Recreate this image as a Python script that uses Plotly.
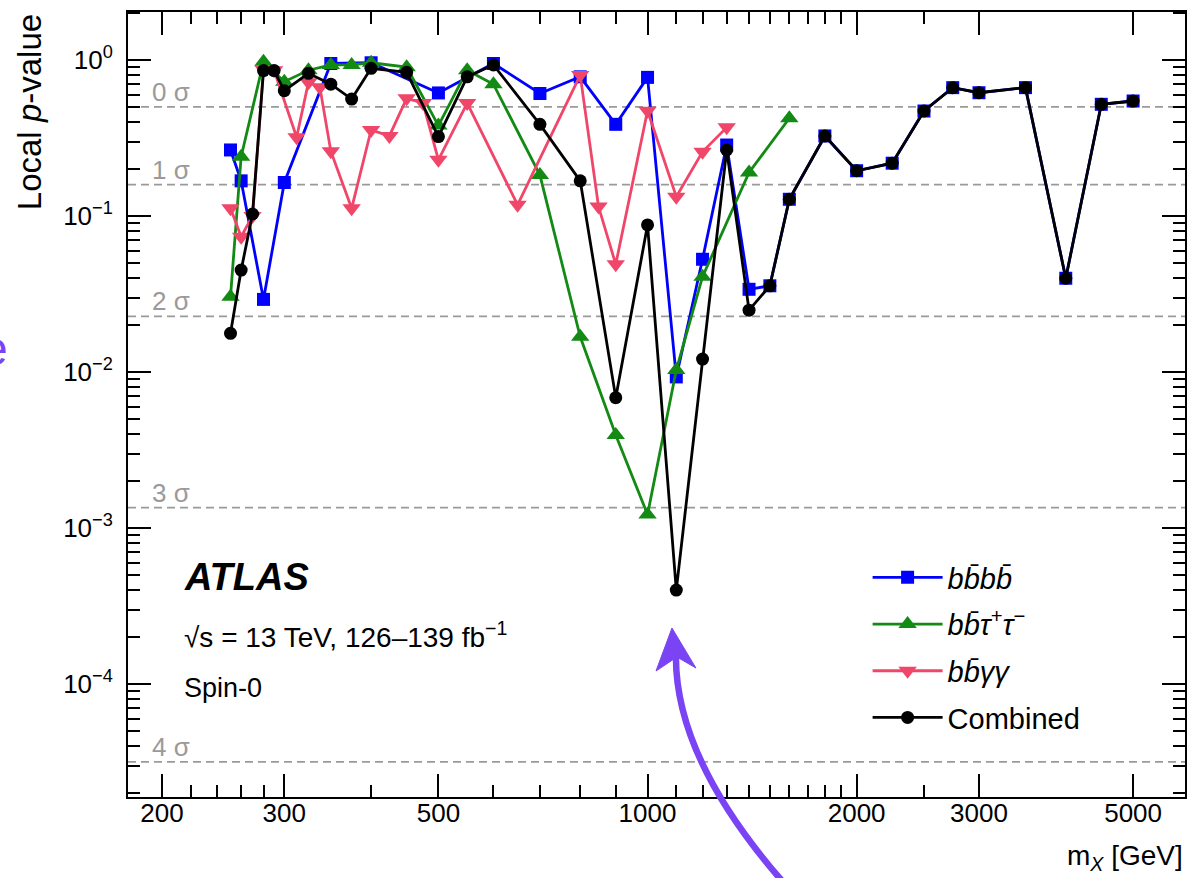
import plotly.graph_objects as go
import math

# ---------------- data ----------------
mass_4b = [251, 260, 280, 300, 350, 400, 500, 600, 700, 800, 900, 1000, 1100, 1200,
           1300, 1400, 1500, 1600, 1800, 2000, 2250, 2500, 2750, 3000, 3500, 4000, 4500, 5000]
p_4b = [0.265, 0.168, 0.0292, 0.164, 0.95, 0.96, 0.615, 0.95, 0.61, 0.78, 0.387, 0.774,
        0.0093, 0.0528, 0.285, 0.0339, 0.0357, 0.128, 0.326, 0.195, 0.218, 0.471, 0.665,
        0.617, 0.665, 0.0399, 0.52, 0.546]

mass_bbtt = [251, 260, 280, 300, 325, 350, 375, 400, 450, 500, 550, 600, 700, 800, 900,
             1000, 1100, 1200, 1400, 1600]
p_bbtt = [0.0304, 0.24, 0.975, 0.726, 0.86, 0.93, 0.93, 0.96, 0.90, 0.38, 0.86, 0.70,
          0.183, 0.0168, 0.00395, 0.00122, 0.0103, 0.0408, 0.19, 0.423]

mass_bbyy = [251, 260, 270, 280, 290, 312.5, 325, 337.5, 350, 375, 400, 425, 450, 475,
             500, 550, 650, 800, 850, 900, 1000, 1100, 1200, 1300]
p_bbyy = [0.112, 0.0737, 0.10, 0.87, 0.86, 0.32, 0.72, 0.67, 0.26, 0.112, 0.356, 0.326,
          0.568, 0.53, 0.229, 0.53, 0.118, 0.80, 0.115, 0.049, 0.473, 0.133, 0.258, 0.37]

mass_comb = [251, 260, 270, 280, 290, 300, 325, 350, 375, 400, 450, 500, 550, 600, 700,
             800, 900, 1000, 1100, 1200, 1300, 1400, 1500, 1600, 1800, 2000, 2250, 2500,
             2750, 3000, 3500, 4000, 4500, 5000]
p_comb = [0.0177, 0.045, 0.103, 0.855, 0.855, 0.636, 0.822, 0.70, 0.562, 0.885, 0.834,
          0.323, 0.78, 0.93, 0.387, 0.168, 0.00685, 0.0876, 0.0004, 0.0121, 0.265, 0.0249,
          0.0357, 0.128, 0.326, 0.195, 0.218, 0.471, 0.665, 0.617, 0.665, 0.0399, 0.52, 0.546]

sigma_labels = ["0 σ", "1 σ", "2 σ", "3 σ", "4 σ"]
sigma_p = [0.5, 0.1587, 0.02275, 0.00135, 3.167e-5]

x_tickvals = [200, 300, 500, 1000, 2000, 3000, 5000]
x_ticktext = ["200", "300", "500", "1000", "2000", "3000", "5000"]
x_minor = [220, 240, 260, 280, 400, 600, 700, 800, 900, 1100, 1200, 1300, 1400, 1500,
           1600, 1700, 1800, 1900, 2500]
y_tickvals = [1e-4, 1e-3, 1e-2, 1e-1, 1]
y_ticktext = ["10<sup>−4</sup>", "10<sup>−3</sup>", "10<sup>−2</sup>",
              "10<sup>−1</sup>", "10<sup>0</sup>"]
y_minor = [k * 10.0 ** d for d in range(-5, 1) for k in range(2, 10)]

# ---------------- layout geometry ----------------
W, H = 1191, 878
L, R, T, B = 128, 1187, 12, 797
FONT = "Liberation Sans, Arial, Helvetica, sans-serif"
PURPLE = "#7a44f5"


def px(x):
    return (x - L) / (R - L)


def py(y):
    return (B - y) / (B - T)


fig = go.Figure()

series = [
    (mass_4b, p_4b, "<i>bb̄bb̄</i>", "#0000ff", "square", 13),
    (mass_bbtt, p_bbtt, "<i>bb̄τ</i><sup>+</sup><i>τ</i><sup>−</sup>", "#138a13", "triangle-up", 16),
    (mass_bbyy, p_bbyy, "<i>bb̄γγ</i>", "#f0466a", "triangle-down", 16),
    (mass_comb, p_comb, "Combined", "#000000", "circle", 13),
]
for i, (xs, ys, name, col, sym, sz) in enumerate(series):
    fig.add_trace(go.Scatter(
        x=xs, y=ys, name=name, mode="lines+markers",
        line=dict(color=col, width=2.8),
        marker=dict(color=col, symbol=sym, size=sz, line=dict(width=0)),
        legendgroup=f"g{i}",
    ))

shapes = []
annotations = []
for lab, p in zip(sigma_labels, sigma_p):
    shapes.append(dict(type="line", xref="paper", yref="y", x0=0, x1=1, y0=p, y1=p,
                       line=dict(color="#9a9a9a", width=1.8, dash="8px,5px"), layer="below"))
    annotations.append(dict(text=lab, xref="paper", yref="y", x=px(150), y=math.log10(p),
                            xanchor="left", yanchor="middle", yshift=15, showarrow=False,
                            font=dict(family=FONT, size=26, color="#9a9a9a")))

# text block
annotations += [
    dict(text="<b><i>ATLAS</i></b>", xref="paper", yref="paper", x=px(182), y=py(577),
         xanchor="left", yanchor="middle", showarrow=False,
         font=dict(family=FONT, size=38, color="black")),
    dict(text="√s = 13 TeV, 126–139 fb<sup>−1</sup>", xref="paper", yref="paper",
         x=px(182), y=py(635), xanchor="left", yanchor="middle", showarrow=False,
         font=dict(family=FONT, size=28, color="black")),
    dict(text="Spin-0", xref="paper", yref="paper", x=px(182), y=py(688),
         xanchor="left", yanchor="middle", showarrow=False,
         font=dict(family=FONT, size=27, color="black")),
    dict(text="Local <i>p</i>-value", xref="paper", yref="paper", x=px(30), y=py(112),
         xanchor="center", yanchor="middle", textangle=-90, showarrow=False,
         font=dict(family=FONT, size=33, color="black")),
    dict(text="m<sub><i>X</i></sub> [GeV]", xref="paper", yref="paper", x=1.0, y=py(857),
         xanchor="right", yanchor="middle", showarrow=False,
         font=dict(family=FONT, size=28, color="black")),
    dict(text="e", xref="paper", yref="paper", x=px(10), y=py(348),
         xanchor="right", yanchor="middle", showarrow=False,
         font=dict(family=FONT, size=48, color=PURPLE)),
]

# purple arrow (overlay)
p0 = (786, 884)
p1 = (674.5, 757.5)
p2 = (677, 652)
shapes.append(dict(type="path", xref="paper", yref="paper", layer="above",
                   path=f"M {px(p0[0])},{py(p0[1])} Q {px(p1[0])},{py(p1[1])} {px(p2[0])},{py(p2[1])}",
                   line=dict(color=PURPLE, width=6.5)))
head = [(673, 628), (697, 668), (678, 657), (657, 671)]
hp = "M " + " L ".join(f"{px(a)},{py(b)}" for a, b in head) + " Z"
shapes.append(dict(type="path", xref="paper", yref="paper", layer="above", path=hp,
                   fillcolor=PURPLE, line=dict(color=PURPLE, width=1)))

fig.update_layout(
    width=W, height=H,
    margin=dict(l=L, r=W - R, t=T, b=H - B),
    paper_bgcolor="white", plot_bgcolor="white",
    font=dict(family=FONT, size=22, color="black"),
    showlegend=True,
    legend=dict(x=px(869), y=py(552), xanchor="left", yanchor="top",
                bgcolor="rgba(0,0,0,0)", font=dict(family=FONT, size=29),
                tracegroupgap=6, itemwidth=70, traceorder="grouped"),
    shapes=shapes, annotations=annotations,
)

fig.update_xaxes(
    type="log", range=[2.2521, 3.7737],
    tickmode="array", tickvals=x_tickvals, ticktext=x_ticktext,
    ticks="inside", ticklen=23, tickwidth=2, tickcolor="black",
    minor=dict(tickmode="array", tickvals=x_minor, ticks="inside", ticklen=12,
               tickwidth=1.5, tickcolor="black", showgrid=False),
    showline=True, linewidth=2, linecolor="black", mirror="allticks",
    showgrid=False, zeroline=False, ticklabelstandoff=-8,
    tickfont=dict(family=FONT, size=26, color="black"),
)
fig.update_yaxes(
    type="log", range=[-4.7244, 0.3077],
    tickmode="array", tickvals=y_tickvals, ticktext=y_ticktext,
    ticks="inside", ticklen=23, tickwidth=2, tickcolor="black",
    minor=dict(tickmode="array", tickvals=y_minor, ticks="inside", ticklen=12,
               tickwidth=1.5, tickcolor="black", showgrid=False),
    showline=True, linewidth=2, linecolor="black", mirror="allticks",
    showgrid=False, zeroline=False, ticklabelstandoff=8,
    tickfont=dict(family=FONT, size=26, color="black"),
)

fig.write_html("out.html")
